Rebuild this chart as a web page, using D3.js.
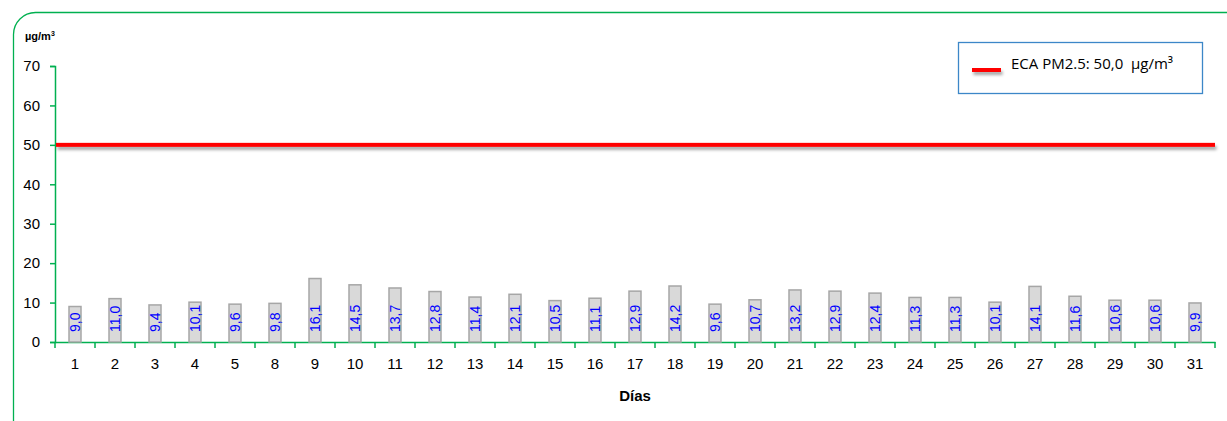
<!DOCTYPE html>
<html><head><meta charset="utf-8">
<script src="https://cdn.jsdelivr.net/npm/d3@7"></script>
<style>body{margin:0;background:#fff}svg{display:block}</style>
</head><body>
<script>
const days = ["1","2","3","4","5","8","9","10","11","12","13","14","15","16","17","18","19","20","21","22","23","24","25","26","27","28","29","30","31"];
const values = [9.0,11.0,9.4,10.1,9.6,9.8,16.1,14.5,13.7,12.8,11.4,12.1,10.5,11.1,12.9,14.2,9.6,10.7,13.2,12.9,12.4,11.3,11.3,10.1,14.1,11.6,10.6,10.6,9.9];
const yTicks = [0,10,20,30,40,50,60,70];
const limitValue = 50;
const legendText = "ECA PM2.5: 50,0  µg/m³";

const W = 1227, H = 421;
const svg = d3.select("body").append("svg").attr("width", W).attr("height", H);
const defs = svg.append("defs");
const f = defs.append("filter").attr("id","sh").attr("filterUnits","userSpaceOnUse")
  .attr("x",0).attr("y",0).attr("width",W).attr("height",H);
f.append("feDropShadow").attr("dx",1.5).attr("dy",3).attr("stdDeviation",1.6).attr("flood-color","#000").attr("flood-opacity",0.35);

const green = "#00b050";
svg.append("rect").attr("x",13.5).attr("y",12.5).attr("width",1240).attr("height",430)
  .attr("rx",22).attr("fill","none").attr("stroke",green).attr("stroke-width",1.3);

const m = {l:55, r:1215, t:66, b:342};
const x = d3.scaleBand().domain(days).range([m.l, m.r]).padding(0);
const y = d3.scaleLinear().domain([0,70]).range([m.b, m.t]);

// y axis
const ya = svg.append("g").attr("transform",`translate(${m.l},0)`)
  .call(d3.axisLeft(y).tickValues(yTicks).tickSize(5).tickPadding(10));
ya.select(".domain").attr("stroke",green).attr("stroke-width",1.5);
ya.selectAll(".tick line").attr("stroke",green).attr("stroke-width",1.5);
ya.selectAll(".tick text").attr("font-family","Liberation Sans, Arial, sans-serif").attr("font-size",15).attr("fill","#000");

// x axis
const xa = svg.append("g").attr("transform",`translate(0,${m.b})`)
  .call(d3.axisBottom(x).tickSize(0).tickPadding(16));
xa.select(".domain").attr("stroke",green).attr("stroke-width",1.5);
xa.selectAll(".tick text").attr("font-family","Liberation Sans, Arial, sans-serif").attr("font-size",15).attr("fill","#000");
const bounds = days.map(d => x(d)).concat([m.r]);
svg.append("g").selectAll("line").data(bounds).join("line")
  .attr("x1",d=>d).attr("x2",d=>d).attr("y1",m.b).attr("y2",m.b+6)
  .attr("stroke",green).attr("stroke-width",1.5);

// bars
const bw = 12;
svg.append("g").selectAll("rect").data(values).join("rect")
  .attr("x",(d,i)=>x(days[i]) + x.bandwidth()/2 - bw/2)
  .attr("y",d=>y(d))
  .attr("width",bw)
  .attr("height",d=>y(0)-y(d))
  .attr("fill","#d9d9d9").attr("stroke","#a6a6a6").attr("stroke-width",1.5);

// bar labels
svg.append("g").selectAll("text").data(values).join("text")
  .attr("transform",(d,i)=>`translate(${x(days[i]) + x.bandwidth()/2 + 5},${y(0)-10}) rotate(-90)`)
  .attr("text-anchor","start")
  .attr("font-family","Liberation Sans, Arial, sans-serif").attr("font-size",14)
  .attr("fill","#0000ff")
  .text(d=>d.toFixed(1).replace(".",","));

// limit line
svg.append("rect").attr("x",m.l+1).attr("width",m.r-m.l-1).attr("y",y(limitValue)-2).attr("height",4)
  .attr("fill","#ff0000").attr("filter","url(#sh)");

// y unit label
svg.append("text").attr("x",25).attr("y",40)
  .attr("font-family","Liberation Sans, Arial, sans-serif").attr("font-size",11).attr("font-weight","bold")
  .text("µg/m").append("tspan").attr("font-size",7).attr("dy",-4).text("3");

// x title
svg.append("text").attr("x",(m.l+m.r)/2).attr("y",401).attr("text-anchor","middle")
  .attr("font-family","Liberation Sans, Arial, sans-serif").attr("font-size",15).attr("font-weight","bold")
  .text("Días");

// legend
const lg = svg.append("g");
lg.append("rect").attr("x",958.5).attr("y",42.5).attr("width",244).attr("height",51)
  .attr("fill","#fff").attr("stroke","#3c87c8").attr("stroke-width",1.3);
lg.append("rect").attr("x",972).attr("width",29).attr("y",68).attr("height",4)
  .attr("fill","#ff0000").attr("filter","url(#sh)");
lg.append("text").attr("x",1011).attr("y",69)
  .attr("font-family","Open Sans, Liberation Sans, sans-serif").attr("font-size",15)
  .attr("fill","#000").style("white-space","pre").text(legendText);
</script>
</body></html>
